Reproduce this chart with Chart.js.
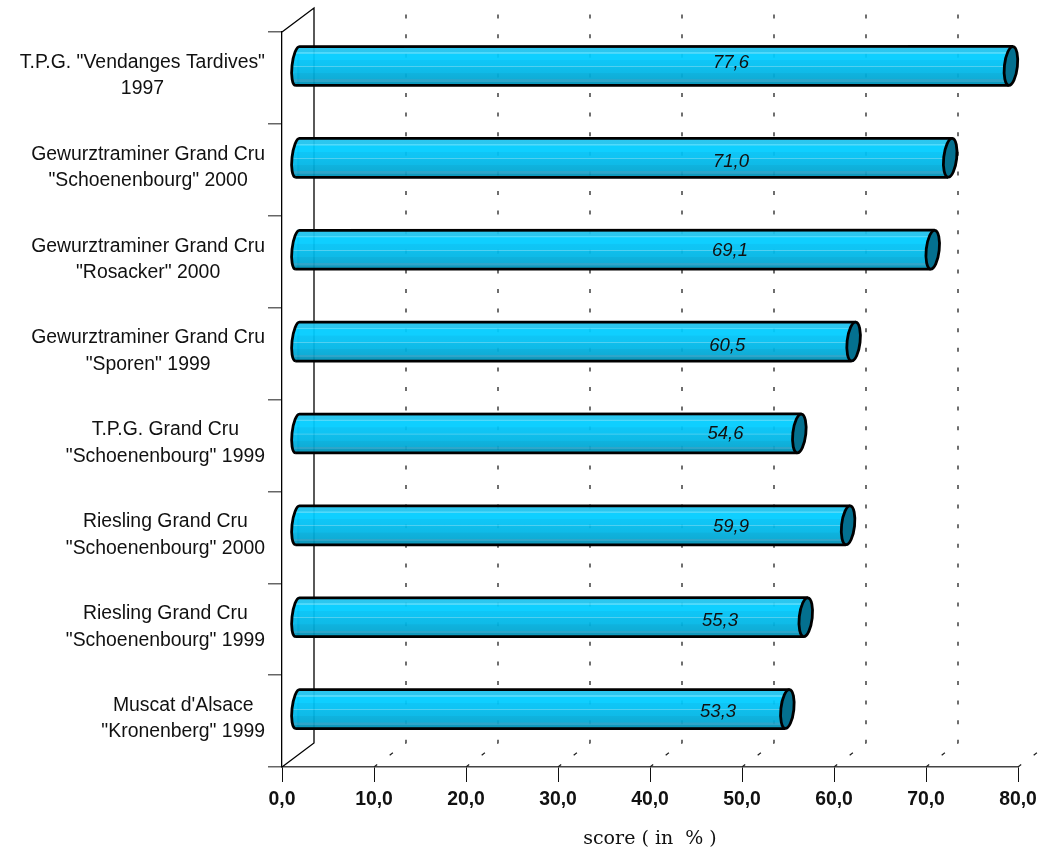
<!DOCTYPE html>
<html>
<head>
<meta charset="utf-8">
<title>score</title>
<script src="https://cdn.jsdelivr.net/npm/chart.js@4/dist/chart.umd.min.js"></script>
<style>
html, body { margin: 0; padding: 0; background: #fff; }
canvas { display: block; }
</style>
</head>
<body>
<canvas id="myChart" width="1047" height="853"></canvas>
<script>
const wines = [
    ['T.P.G. "Vendanges Tardives"', '1997'],
    ['Gewurztraminer Grand Cru', '"Schoenenbourg" 2000'],
    ['Gewurztraminer Grand Cru', '"Rosacker" 2000'],
    ['Gewurztraminer Grand Cru', '"Sporen" 1999'],
    ['T.P.G. Grand Cru', '"Schoenenbourg" 1999'],
    ['Riesling Grand Cru', '"Schoenenbourg" 2000'],
    ['Riesling Grand Cru', '"Schoenenbourg" 1999'],
    ["Muscat d'Alsace", '"Kronenberg" 1999']
];
const scores = [77.6, 71.0, 69.1, 60.5, 54.6, 59.9, 55.3, 53.3];

// where the original put each score label, it is not tied to the bar end
const labelAtScore = [48.8, 48.8, 48.7, 48.4, 48.2, 48.8, 47.6, 47.4];
const labelNudgeY = [-3, 4, 1, 4, 0, 2, 4, 3];

const depthX = 32, depthY = -24;      // back wall offset
const barShiftX = 15, barShiftY = -12; // bars sit half way in
const barHeight = 39;
const capRx = 6.5, leftCapRx = 5.5, capTilt = 0.11;

const sans = '"Liberation Sans", Arial, sans-serif';

function comma(v) {
    return v.toFixed(1).replace('.', ',');
}

// flat cylinder shading, top to bottom
const shade = [
    [0.00, 'rgba(30,195,238,0.94)'], [0.14, 'rgba(30,195,238,0.94)'],
    [0.15, 'rgba(70,215,250,0.94)'], [0.18, 'rgba(70,215,250,0.94)'],
    [0.19, 'rgba(0,204,255,0.94)'], [0.34, 'rgba(0,204,255,0.94)'],
    [0.35, 'rgba(0,194,246,0.94)'], [0.50, 'rgba(0,192,242,0.94)'],
    [0.505, 'rgba(70,205,240,0.94)'], [0.525, 'rgba(70,205,240,0.94)'],
    [0.53, 'rgba(0,186,234,0.94)'], [0.68, 'rgba(0,182,230,0.94)'],
    [0.69, 'rgba(0,174,220,0.94)'], [0.84, 'rgba(0,168,212,0.94)'],
    [0.85, 'rgba(34,160,198,0.94)'], [0.90, 'rgba(34,160,198,0.94)'],
    [0.91, 'rgba(0,148,186,0.94)'], [1.00, 'rgba(0,148,186,0.94)']
];

function barGradient(c, yc) {
    const g = c.createLinearGradient(0, yc - barHeight / 2, 0, yc + barHeight / 2);
    shade.forEach(s => g.addColorStop(s[0], s[1]));
    return g;
}

// walls and dashed depth lines, behind the bars
const wallPlugin = {
    id: 'wall',
    beforeDatasetsDraw(chart) {
        const c = chart.ctx, a = chart.chartArea, xs = chart.scales.x;
        c.save();
        c.strokeStyle = '#000';
        c.lineWidth = 1.3;
        c.beginPath();
        c.moveTo(a.left, a.top);
        c.lineTo(a.left + depthX, a.top + depthY);
        c.lineTo(a.left + depthX, a.bottom + depthY);
        c.lineTo(a.left, a.bottom);
        c.stroke();

        c.strokeStyle = '#222';
        c.setLineDash([4, 15.6]);
        xs.ticks.forEach(t => {
            if (t.value === 0) return;
            const x = xs.getPixelForValue(t.value);
            c.beginPath();
            c.moveTo(x, a.bottom);
            c.lineTo(x + depthX, a.bottom + depthY);
            c.lineTo(x + depthX, a.top + depthY);
            c.stroke();
        });
        c.restore();

        // left caps go under the bar bodies, translate stays on until afterDatasetsDraw
        c.save();
        c.translate(barShiftX, barShiftY);
        const ry = barHeight / 2;
        const sx = Math.sin(capTilt) * ry;
        chart.getDatasetMeta(0).data.forEach(bar => {
            c.beginPath();
            c.ellipse(bar.base, bar.y, leftCapRx, ry, capTilt, Math.PI / 2, Math.PI * 1.5);
            c.lineTo(bar.base + sx, bar.y + ry);
            c.closePath();
            c.fillStyle = barGradient(c, bar.y);
            c.fill();
        });
    },
    afterDatasetsDraw(chart) {
        const c = chart.ctx, xs = chart.scales.x;
        const bars = chart.getDatasetMeta(0).data;
        const ry = barHeight / 2;
        const sx = Math.sin(capTilt) * ry;
        c.lineWidth = 2.8;
        c.strokeStyle = '#000';
        bars.forEach(bar => {
            c.beginPath();
            c.ellipse(bar.base, bar.y, leftCapRx, ry, capTilt, Math.PI / 2, Math.PI * 1.5);
            c.lineTo(bar.x + sx, bar.y - ry);
            c.moveTo(bar.base - sx, bar.y + ry);
            c.lineTo(bar.x - sx, bar.y + ry);
            c.stroke();

            c.beginPath();
            c.ellipse(bar.x, bar.y, capRx, ry, capTilt, 0, Math.PI * 2);
            c.fillStyle = '#04708f';
            c.fill();
            c.stroke();
        });
        c.restore();

        // score labels
        c.save();
        c.font = 'italic 18.5px ' + sans;
        c.fillStyle = '#111';
        c.textAlign = 'center';
        c.textBaseline = 'middle';
        bars.forEach((bar, i) => {
            c.fillText(comma(scores[i]), xs.getPixelForValue(labelAtScore[i]), bar.y + barShiftY + labelNudgeY[i]);
        });
        c.restore();

        // category labels: block ends at the same x, lines centred inside it
        const ys = chart.scales.y;
        c.save();
        c.font = '19.4px ' + sans;
        c.fillStyle = '#111';
        c.textAlign = 'center';
        c.textBaseline = 'middle';
        wines.forEach((lines, i) => {
            const w = Math.max(...lines.map(l => c.measureText(l).width));
            const cx = chart.chartArea.left - 17 - w / 2;
            const yc = ys.getPixelForTick(i);
            c.fillText(lines[0], cx, yc - 15.5);
            c.fillText(lines[1], cx, yc + 11);
        });
        c.restore();
    }
};

let ctx = document.getElementById('myChart').getContext('2d');
let myChart = new Chart(ctx, {
    type: 'bar',
    data: {
        labels: wines,
        datasets: [{
            data: scores,
            barThickness: barHeight,
            borderWidth: 0,
            backgroundColor: c => barGradient(c.chart.ctx, c.chart.scales.y.getPixelForTick(c.dataIndex))
        }]
    },
    plugins: [wallPlugin],
    options: {
        indexAxis: 'y',
        responsive: false,
        animation: false,
        layout: { padding: { top: 32, right: 29, left: 0, bottom: 0 } },
        plugins: { legend: { display: false }, tooltip: { enabled: false } },
        scales: {
            x: {
                min: 0,
                max: 80,
                afterFit: s => { s.height = 86; },
                border: { color: '#444', width: 1.5 },
                grid: { drawOnChartArea: false, tickLength: 15, color: '#111' },
                ticks: {
                    stepSize: 10,
                    maxRotation: 0,
                    padding: 6,
                    color: '#111',
                    font: { family: sans, size: 19.4, weight: 'bold' },
                    callback: v => comma(v)
                },
                title: {
                    display: true,
                    text: 'score ( in  % )',
                    color: '#111',
                    font: { family: '"DejaVu Serif", serif', size: 19 },
                    padding: { top: 0, bottom: 3 }
                }
            },
            y: {
                afterFit: s => { s.width = 282; },
                border: { color: '#000', width: 1.3 },
                grid: { drawOnChartArea: false, tickLength: 14, color: '#666', lineWidth: 1.5 },
                ticks: { display: false }
            }
        }
    }
});
</script>
</body>
</html>
